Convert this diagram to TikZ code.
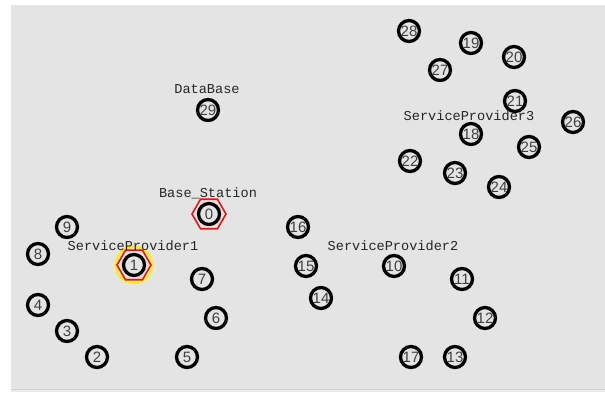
\documentclass[tikz,border=0pt]{standalone}
\usepackage{fontspec}
\usetikzlibrary{shapes.geometric}
\newfontfamily\labfont{Liberation Mono}
\newfontfamily\numfont{Liberation Sans}
\definecolor{bg}{HTML}{E4E4E4}
\definecolor{hexred}{HTML}{F01010}
\definecolor{ringyel}{HTML}{FFF000}
\tikzset{
  mote/.style={circle, draw=black, line width=3.3pt, minimum size=21pt, inner sep=0pt,
    font=\numfont\fontsize{15}{15}\selectfont, text=black!75},
  hexring/.style={regular polygon, regular polygon sides=6, draw=hexred, line width=1.6pt,
    minimum size=34pt, inner sep=0pt},
  yelring/.style={circle, draw=ringyel, line width=2.2pt, minimum size=36pt, inner sep=0pt},
  grouplabel/.style={font=\labfont\fontsize{13.6}{14}\selectfont, text=black!85, inner sep=0pt}
}
\begin{document}
\begin{tikzpicture}[x=1pt,y=-1pt]
\useasboundingbox (0,0) rectangle (605,392);
\fill[white] (0,0) rectangle (605,392);
\fill[bg] (11,5) rectangle (605,389);
\fill[black!18] (11,388.5) rectangle (605,390);
\fill[black!8] (11,390) rectangle (605,392);

% decorations under nodes
\node[yelring] (ring1) at (134,265) {};
\node[hexring] (hex1) at (134,265) {};
\node[hexring] (hex0) at (209,214) {};

% nodes
\node[mote] (n0) at (209,214) {0};
\node[mote] (n1) at (134,265) {1};
\node[mote] (n2) at (97,357) {2};
\node[mote] (n3) at (67,331) {3};
\node[mote] (n4) at (38,305) {4};
\node[mote] (n5) at (187,357) {5};
\node[mote] (n6) at (216,318) {6};
\node[mote] (n7) at (202,279) {7};
\node[mote] (n8) at (38,254) {8};
\node[mote] (n9) at (67,227) {9};
\node[mote] (n10) at (394,266) {10};
\node[mote] (n11) at (462,279) {11};
\node[mote] (n12) at (485,318) {12};
\node[mote] (n13) at (455,357) {13};
\node[mote] (n14) at (321,298) {14};
\node[mote] (n15) at (306,266) {15};
\node[mote] (n16) at (298,227) {16};
\node[mote] (n17) at (411,357) {17};
\node[mote] (n18) at (471,134) {18};
\node[mote] (n19) at (471,43) {19};
\node[mote] (n20) at (514,57) {20};
\node[mote] (n21) at (515,101) {21};
\node[mote] (n22) at (410,161) {22};
\node[mote] (n23) at (455,173) {23};
\node[mote] (n24) at (499,187) {24};
\node[mote] (n25) at (529,147) {25};
\node[mote] (n26) at (573,122) {26};
\node[mote] (n27) at (440,70) {27};
\node[mote] (n28) at (409,31) {28};
\node[mote] (n29) at (208,110) {29};

% labels
\node[grouplabel] (lDB) at (207,89) {DataBase};
\node[grouplabel] (lBS) at (208,193) {Base\_Station};
\node[grouplabel] (lSP1) at (133,246) {ServiceProvider1};
\node[grouplabel] (lSP2) at (393,246) {ServiceProvider2};
\node[grouplabel] (lSP3) at (469,116) {ServiceProvider3};
\end{tikzpicture}
\end{document}
